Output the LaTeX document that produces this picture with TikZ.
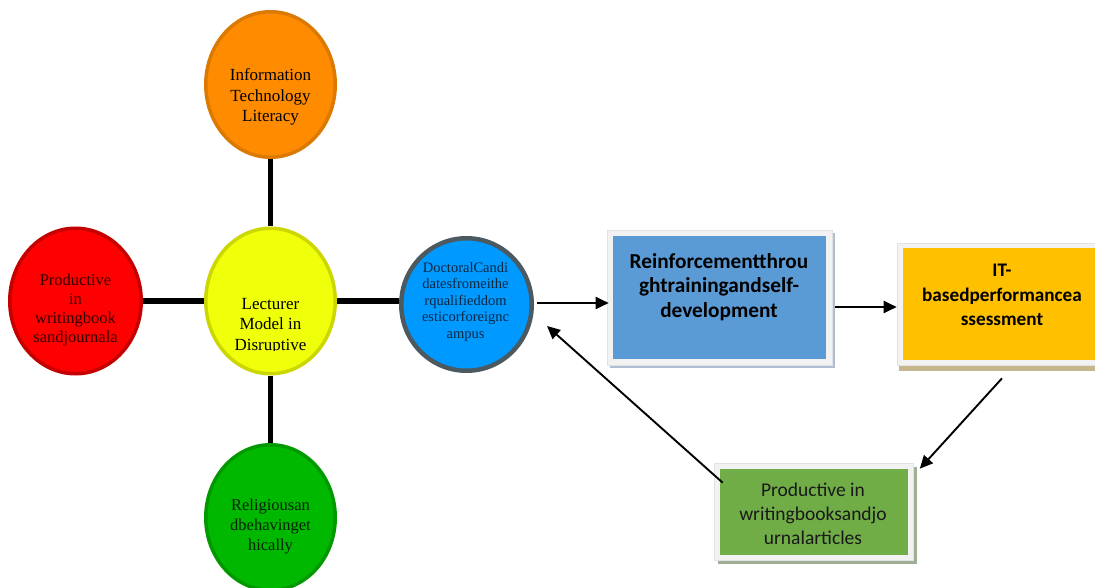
\documentclass[tikz,border=0pt]{standalone}
\usepackage{fontspec}
\setmainfont{Liberation Serif}
\newfontfamily\carl{Carlito}
\usetikzlibrary{shapes.geometric,arrows.meta,shadows,calc}
\definecolor{corange}{HTML}{FF8C00}
\definecolor{borange}{HTML}{DB7900}
\definecolor{cred}{HTML}{FF0000}
\definecolor{bred}{HTML}{C40000}
\definecolor{cyellow}{HTML}{F0FF0A}
\definecolor{byellow}{HTML}{CCD600}
\definecolor{cgreen}{HTML}{00B800}
\definecolor{bgreen}{HTML}{009A00}
\definecolor{cblue}{HTML}{0099FF}
\definecolor{bblue}{HTML}{4B5A60}
\definecolor{tblue}{HTML}{0E2740}
\definecolor{tred}{HTML}{330000}
\definecolor{tgreen}{HTML}{002200}
\definecolor{boxblue}{HTML}{5B9BD5}
\definecolor{boxorange}{HTML}{FFC000}
\definecolor{boxgreen}{HTML}{70AD47}
\definecolor{framefill}{HTML}{F2F2F2}
\definecolor{framedraw}{HTML}{E2E2E2}
\definecolor{shblue}{HTML}{AFBFD3}
\definecolor{shtan}{HTML}{C6B68C}
\definecolor{shgreen}{HTML}{9FAE94}
\begin{document}
\begin{tikzpicture}[x=1pt,y=1pt,
  circ/.style={ellipse, line width=3.5pt, minimum width=129.5pt, minimum height=145.5pt, inner sep=0pt},
  conn/.style={line width=5.5pt, black},
  arr/.style={line width=1.9pt, black, -{Triangle[length=13pt,width=12pt]}},
  ctext/.style={align=center, inner sep=0pt, font=\fontsize{17}{20.5}\selectfont},
  frame/.style={draw=framedraw, line width=0.6pt, fill=framefill, inner sep=0pt},
  inbox/.style={inner sep=0pt},
  btext/.style={align=center, inner sep=0pt}]
\useasboundingbox (0,0) rectangle (1095,-588);
\clip (0,0) rectangle (1095,-588);
\fill[white] (0,0) rectangle (1095,-588);

% circles
\node[circ, draw=borange, fill=corange] (orange) at (270.5,-84.5) {};
\node[circ, draw=byellow, fill=cyellow] (yellow) at (270.5,-301) {};
\node[circ, draw=bred, fill=cred, minimum width=131.5pt] (red) at (75.5,-301) {};
\node[circ, draw=bgreen, fill=cgreen] (green) at (270.5,-517.5) {};
\node[circ, draw=bblue, fill=cblue, line width=4.5pt, minimum width=130.5pt, minimum height=132.5pt] (blue) at (466.5,-304.5) {};

% circle texts
\node[ctext] (torange) at (270.5,-97) {Information\\Technology\\Literacy};
\node[ctext, text=tred, font=\fontsize{16.5}{18.8}\selectfont] (tred) at (75.5,-310) {Productive\\in\\writingbook\\sandjournala};
\begin{scope}
\clip (200,-230) rectangle (340,-350);
\node[ctext] (tyellow) at (270.5,-326) {Lecturer\\Model in\\Disruptive};
\end{scope}
\node[ctext, text=tgreen, font=\fontsize{16.5}{20}\selectfont] (tgreen) at (270.5,-527) {Religiousan\\dbehavinget\\hically};
\node[ctext, text=tblue, font=\fontsize{14.5}{16.5}\selectfont] (tblue) at (465.5,-302) {DoctoralCandi\\datesfromeithe\\rqualifieddom\\esticorforeignc\\ampus};

% spokes
\draw[conn] (orange) -- (yellow);
\draw[conn] (yellow) -- (green);
\draw[conn] (red) -- (yellow);
\draw[conn] (yellow.east) -- (yellow.east -| blue.west);

% boxes
\node[frame, minimum width=225pt, minimum height=135pt,
  drop shadow={shadow xshift=3pt, shadow yshift=-3pt, fill=shblue, opacity=1}] (bbox) at (719.5,-297.5) {};
\node[inbox, fill=boxblue, minimum width=213pt, minimum height=123pt] (bboxin) at (bbox.center) {};
\node[btext, font=\carl\bfseries\fontsize{21.3}{24.5}\selectfont] (tbbox) at (719,-287) {Reinforcementthrou\\ghtrainingandself-\\development};

\node[frame, minimum width=210pt, minimum height=122pt,
  drop shadow={shadow xshift=2pt, shadow yshift=-6pt, fill=shtan, opacity=1}] (obox) at (1002,-304) {};
\node[inbox, fill=boxorange, minimum width=198pt, minimum height=112pt] (oboxin) at (obox.center) {};
\node[btext, font=\carl\bfseries\fontsize{19.2}{24.5}\selectfont] (tobox) at (1002,-295) {IT-\\basedperformancea\\ssessment};

\node[frame, minimum width=199pt, minimum height=97pt,
  drop shadow={shadow xshift=4pt, shadow yshift=-4pt, fill=shgreen, opacity=1}] (gbox) at (813.5,-511.5) {};
\node[inbox, fill=boxgreen, minimum width=188pt, minimum height=86pt] (gboxin) at (gbox.center) {};
\node[btext, text=black!90, font=\carl\fontsize{19.5}{24}\selectfont] (tgbox) at (813,-514) {Productive in\\writingbooksandjo\\urnalarticles};

% arrows
\draw[arr] ($(blue.east)+(3,1.5)$) -- ($(bbox.west)+(2,-5.5)$);
\draw[arr] ($(bbox.east)+(3,-9.5)$) -- ($(obox.west)+(0,-3)$);
\draw[arr] ($(obox.south)+(0,-13)$) -- ($(gbox.north east)+(6.5,-6)$);
\draw[arr] ($(gbox.north west)+(9,-20)$) -- ($(blue.east)+(13,-21.5)$);
\end{tikzpicture}
\end{document}
